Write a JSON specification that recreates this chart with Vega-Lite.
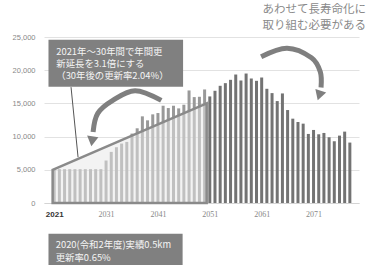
{
  "$schema": "https://vega.github.io/schema/vega-lite/v6.json",
  "width": 315,
  "height": 166,
  "autosize": "none",
  "padding": {"left": 44, "top": 37, "right": 14, "bottom": 62},
  "background": "white",
  "title": {
    "text": ["あわせて長寿命化に", "取り組む必要がある"],
    "anchor": "end",
    "orient": "top",
    "frame": "group",
    "font": "Noto Sans CJK JP",
    "fontSize": 11.5,
    "fontWeight": "normal",
    "color": "#8a8a8a",
    "lineHeight": 16,
    "offset": 2,
    "dx": 7
  },
  "config": {"view": {"stroke": null}},
  "datasets": {
    "bars": [
      {"year": 2021, "value": 5100, "period": "a"},
      {"year": 2022, "value": 5100, "period": "a"},
      {"year": 2023, "value": 5100, "period": "a"},
      {"year": 2024, "value": 5100, "period": "a"},
      {"year": 2025, "value": 5100, "period": "a"},
      {"year": 2026, "value": 5100, "period": "a"},
      {"year": 2027, "value": 5100, "period": "a"},
      {"year": 2028, "value": 5100, "period": "a"},
      {"year": 2029, "value": 5100, "period": "a"},
      {"year": 2030, "value": 5100, "period": "a"},
      {"year": 2031, "value": 6400, "period": "a"},
      {"year": 2032, "value": 7700, "period": "a"},
      {"year": 2033, "value": 8400, "period": "a"},
      {"year": 2034, "value": 8950, "period": "a"},
      {"year": 2035, "value": 9200, "period": "a"},
      {"year": 2036, "value": 10450, "period": "a"},
      {"year": 2037, "value": 11250, "period": "a"},
      {"year": 2038, "value": 13050, "period": "a"},
      {"year": 2039, "value": 12450, "period": "a"},
      {"year": 2040, "value": 13350, "period": "a"},
      {"year": 2041, "value": 13550, "period": "a"},
      {"year": 2042, "value": 14650, "period": "a"},
      {"year": 2043, "value": 14300, "period": "a"},
      {"year": 2044, "value": 14650, "period": "a"},
      {"year": 2045, "value": 14250, "period": "a"},
      {"year": 2046, "value": 14800, "period": "a"},
      {"year": 2047, "value": 16950, "period": "a"},
      {"year": 2048, "value": 15950, "period": "a"},
      {"year": 2049, "value": 16000, "period": "a"},
      {"year": 2050, "value": 17100, "period": "a"},
      {"year": 2051, "value": 16050, "period": "b"},
      {"year": 2052, "value": 16900, "period": "b"},
      {"year": 2053, "value": 17650, "period": "b"},
      {"year": 2054, "value": 18050, "period": "b"},
      {"year": 2055, "value": 18550, "period": "b"},
      {"year": 2056, "value": 19350, "period": "b"},
      {"year": 2057, "value": 18450, "period": "b"},
      {"year": 2058, "value": 19500, "period": "b"},
      {"year": 2059, "value": 18750, "period": "b"},
      {"year": 2060, "value": 18400, "period": "b"},
      {"year": 2061, "value": 18900, "period": "b"},
      {"year": 2062, "value": 17200, "period": "b"},
      {"year": 2063, "value": 16550, "period": "b"},
      {"year": 2064, "value": 15350, "period": "b"},
      {"year": 2065, "value": 16500, "period": "b"},
      {"year": 2066, "value": 14000, "period": "b"},
      {"year": 2067, "value": 12700, "period": "b"},
      {"year": 2068, "value": 12200, "period": "b"},
      {"year": 2069, "value": 11950, "period": "b"},
      {"year": 2070, "value": 10400, "period": "b"},
      {"year": 2071, "value": 11000, "period": "b"},
      {"year": 2072, "value": 10350, "period": "b"},
      {"year": 2073, "value": 10550, "period": "b"},
      {"year": 2074, "value": 9900, "period": "b"},
      {"year": 2075, "value": 9300, "period": "b"},
      {"year": 2076, "value": 10150, "period": "b"},
      {"year": 2077, "value": 10750, "period": "b"},
      {"year": 2078, "value": 9100, "period": "b"}
    ],
    "target": [
      {"year": 2020.7, "value": 5000},
      {"year": 2050.4, "value": 15000}
    ],
    "pointer": [
      {"year": 2024.25, "value": 17450, "year2": 2025.6, "value2": 6900}
    ],
    "arrows": [
      {"g": "left", "i": 1, "year": 2041.65, "value": 15460},
      {"g": "left", "i": 2, "year": 2036.6, "value": 16910},
      {"g": "left", "i": 3, "year": 2032.3, "value": 15460},
      {"g": "left", "i": 4, "year": 2029.4, "value": 13500},
      {"g": "left", "i": 5, "year": 2028.5, "value": 10700},
      {"g": "right", "i": 1, "year": 2060.9, "value": 22030},
      {"g": "right", "i": 2, "year": 2065.9, "value": 23310},
      {"g": "right", "i": 3, "year": 2070.6, "value": 21880},
      {"g": "right", "i": 4, "year": 2072.3, "value": 19770},
      {"g": "right", "i": 5, "year": 2072.45, "value": 17400}
    ],
    "headLeft": [{"year": 2028.3, "value": 9300}],
    "headRight": [{"year": 2072.1, "value": 16200}],
    "boxes": [
      {"year": 2019.9, "year2": 2045.85, "value": 24590, "value2": 17510},
      {"year": 2019.9, "year2": 2045.76, "value": -4620, "value2": -9400}
    ],
    "notes": [
      {"year": 2021.4, "value": 22790, "t": "2021年～30年間で年間更"},
      {"year": 2021.4, "value": 20980, "t": "新延長を3.1倍にする"},
      {"year": 2021.4, "value": 19170, "t": "（30年後の更新率2.04%）"},
      {"year": 2021.3, "value": -6280, "t": "2020(令和2年度)実績0.5km"},
      {"year": 2021.3, "value": -8240, "t": "更新率0.65%"}
    ]
  },
  "encoding": {
    "x": {
      "field": "year", "type": "quantitative", "title": null,
      "scale": {"domain": [2020.0, 2078.8], "nice": false, "zero": false},
      "axis": {
        "values": [2021, 2031, 2041, 2051, 2061, 2071],
        "labelExpr": "format(datum.value, 'd')",
        "grid": false,
        "ticks": false,
        "domainColor": "#d4d4d4",
        "domainWidth": 1,
        "labelPadding": 7,
        "labelFontSize": 8,
        "labelFont": {"condition": {"test": "datum.value == 2021", "value": "Liberation Sans"}, "value": "Liberation Serif"},
        "labelFontWeight": {"condition": {"test": "datum.value == 2021", "value": "bold"}, "value": "normal"},
        "labelColor": {"condition": {"test": "datum.value == 2021", "value": "#333333"}, "value": "#888888"}
      }
    },
    "y": {
      "field": "value", "type": "quantitative", "title": null,
      "scale": {"domain": [0, 25000], "nice": false},
      "axis": {
        "values": [0, 5000, 10000, 15000, 20000, 25000],
        "labelExpr": "format(datum.value, ',')",
        "domain": false,
        "ticks": false,
        "gridColor": "#e2e2e2",
        "labelPadding": 9,
        "labelFontSize": 7.5,
        "labelFont": "Liberation Sans",
        "labelColor": "#888888"
      }
    }
  },
  "layer": [
    {
      "data": {"name": "bars"},
      "mark": {"type": "bar", "width": 3},
      "encoding": {
        "color": {
          "field": "period", "type": "nominal", "legend": null,
          "scale": {"domain": ["a", "b"], "range": ["#999999", "#737373"]}
        }
      }
    },
    {
      "data": {"name": "target"},
      "mark": {"type": "area", "fill": "#e8e8e8", "fillOpacity": 0.5, "stroke": "#8a8a8a", "strokeWidth": 2.5, "strokeJoin": "miter"},
      "encoding": {
        "y2": {"datum": 0}
      }
    },
    {
      "data": {"name": "pointer"},
      "mark": {"type": "rule", "color": "#555555", "strokeWidth": 1},
      "encoding": {
        "x2": {"field": "year2"},
        "y2": {"field": "value2"}
      }
    },
    {
      "data": {"name": "arrows"},
      "mark": {"type": "line", "color": "#7f7f7f", "strokeWidth": 5, "interpolate": "cardinal", "strokeCap": "butt"},
      "encoding": {
        "detail": {"field": "g"},
        "order": {"field": "i"}
      }
    },
    {
      "data": {"name": "headLeft"},
      "mark": {"type": "point", "shape": "triangle-down", "filled": true, "color": "#7f7f7f", "opacity": 1, "size": 130, "angle": 8},
      "encoding": {}
    },
    {
      "data": {"name": "headRight"},
      "mark": {"type": "point", "shape": "triangle-down", "filled": true, "color": "#7f7f7f", "opacity": 1, "size": 130, "angle": 18},
      "encoding": {}
    },
    {
      "data": {"name": "boxes"},
      "mark": {"type": "rect", "fill": "#808080"},
      "encoding": {
        "x2": {"field": "year2"},
        "y2": {"field": "value2"}
      }
    },
    {
      "data": {"name": "notes"},
      "mark": {"type": "text", "align": "left", "baseline": "middle", "font": "Noto Sans CJK JP", "fontSize": 9.4, "color": "#f4f4f4"},
      "encoding": {
        "text": {"field": "t"}
      }
    }
  ]
}
